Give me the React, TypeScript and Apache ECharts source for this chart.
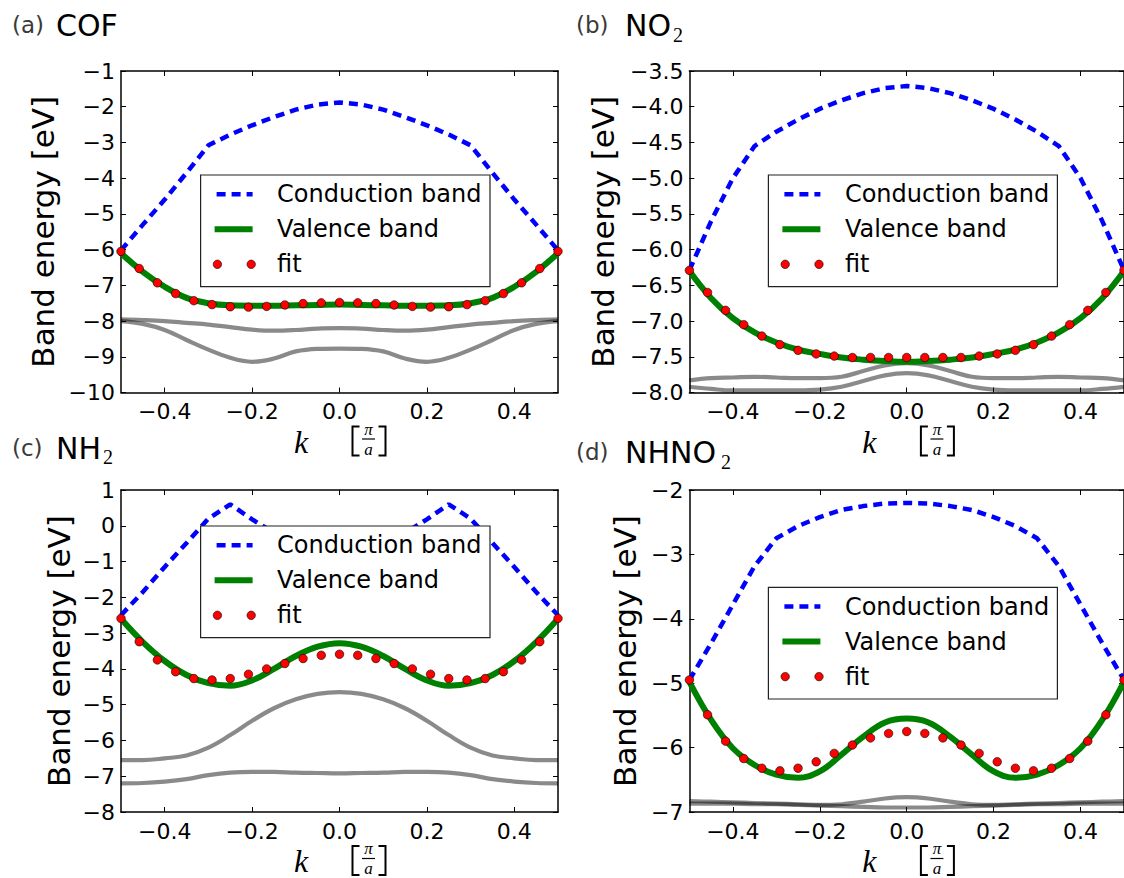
import React, { useEffect, useRef } from "react";
import * as echarts from "echarts";

// ---------------- data ----------------
const kLine = [-0.5, -0.45, -0.4, -0.35, -0.3, -0.25, -0.2, -0.15, -0.1, -0.05, 0, 0.05, 0.1, 0.15, 0.2, 0.25, 0.3, 0.35, 0.4, 0.45, 0.5];
const kFit = [-0.5, -0.4583, -0.4167, -0.375, -0.3333, -0.2917, -0.25, -0.2083, -0.1667, -0.125, -0.0833, -0.0417, 0, 0.0417, 0.0833, 0.125, 0.1667, 0.2083, 0.25, 0.2917, 0.3333, 0.375, 0.4167, 0.4583, 0.5];
const xTicks = [-0.4, -0.2, 0, 0.2, 0.4];

// (a) COF
const condA = [-6.02, -5.3, -4.6, -3.85, -3.08, -2.78, -2.52, -2.29, -2.08, -1.94, -1.88, -1.94, -2.08, -2.29, -2.52, -2.78, -3.08, -3.85, -4.6, -5.3, -6.02];
const valA = [-6.1, -6.62, -7.04, -7.35, -7.5, -7.56, -7.57, -7.57, -7.56, -7.55, -7.54, -7.55, -7.56, -7.57, -7.57, -7.56, -7.5, -7.35, -7.04, -6.62, -6.1];
const fitA = [-6.05, -6.53, -6.93, -7.23, -7.43, -7.54, -7.6, -7.61, -7.59, -7.55, -7.51, -7.49, -7.48, -7.49, -7.51, -7.55, -7.59, -7.61, -7.6, -7.54, -7.43, -7.23, -6.93, -6.53, -6.05];
const grayA1 = [-7.95, -7.97, -8.0, -8.05, -8.1, -8.17, -8.24, -8.27, -8.25, -8.21, -8.2, -8.21, -8.25, -8.27, -8.24, -8.17, -8.1, -8.05, -8.0, -7.97, -7.95];
const grayA2 = [-8.0, -8.08, -8.25, -8.53, -8.8, -9.03, -9.14, -9.05, -8.85, -8.78, -8.77, -8.78, -8.85, -9.05, -9.14, -9.03, -8.8, -8.53, -8.25, -8.08, -8.0];

// (b) NO2
const condB = [-6.29, -5.6, -5.0, -4.55, -4.35, -4.18, -4.03, -3.91, -3.81, -3.74, -3.71, -3.74, -3.81, -3.91, -4.03, -4.18, -4.35, -4.55, -5.0, -5.6, -6.29];
const valB = [-6.3, -6.68, -6.96, -7.16, -7.3, -7.4, -7.46, -7.51, -7.54, -7.56, -7.57, -7.56, -7.54, -7.51, -7.46, -7.4, -7.3, -7.16, -6.96, -6.68, -6.3];
const fitB = [-6.29, -6.6, -6.85, -7.05, -7.21, -7.33, -7.41, -7.46, -7.49, -7.51, -7.51, -7.51, -7.51, -7.51, -7.51, -7.51, -7.49, -7.46, -7.41, -7.33, -7.21, -7.05, -6.85, -6.6, -6.29];
const grayB1 = [-7.83, -7.8, -7.79, -7.78, -7.79, -7.8, -7.8, -7.78, -7.7, -7.62, -7.59, -7.62, -7.7, -7.78, -7.8, -7.8, -7.79, -7.78, -7.79, -7.8, -7.83];
const grayB2 = [-7.92, -7.95, -7.97, -7.97, -7.97, -7.97, -7.96, -7.92, -7.84, -7.76, -7.73, -7.76, -7.84, -7.92, -7.96, -7.97, -7.97, -7.97, -7.97, -7.95, -7.92];

// (c) NH2
const condC = [-2.5, -1.85, -1.15, -0.48, 0.2, 0.6, 0.18, -0.2, -0.6, -0.9, -1.0, -0.9, -0.6, -0.2, 0.18, 0.6, 0.2, -0.48, -1.15, -1.85, -2.5];
const valC = [-2.6, -3.25, -3.78, -4.17, -4.4, -4.47, -4.32, -4.0, -3.64, -3.38, -3.28, -3.38, -3.64, -4.0, -4.32, -4.47, -4.4, -4.17, -3.78, -3.25, -2.6];
const fitC = [-2.59, -3.24, -3.75, -4.08, -4.27, -4.31, -4.27, -4.15, -4.0, -3.85, -3.71, -3.62, -3.59, -3.62, -3.71, -3.85, -4.0, -4.15, -4.27, -4.31, -4.27, -4.08, -3.75, -3.24, -2.59];
const grayC1 = [-6.55, -6.55, -6.5, -6.42, -6.2, -5.85, -5.45, -5.1, -4.85, -4.7, -4.65, -4.7, -4.85, -5.1, -5.45, -5.85, -6.2, -6.42, -6.5, -6.55, -6.55];
const grayC2 = [-7.2, -7.19, -7.15, -7.08, -6.97, -6.9, -6.88, -6.88, -6.9, -6.91, -6.92, -6.91, -6.9, -6.88, -6.88, -6.9, -6.97, -7.08, -7.15, -7.19, -7.2];

// (d) NHNO2
const condD = [-4.95, -4.38, -3.78, -3.18, -2.75, -2.56, -2.42, -2.31, -2.25, -2.21, -2.2, -2.21, -2.25, -2.31, -2.42, -2.56, -2.75, -3.18, -3.78, -4.38, -4.95];
const valD = [-4.98, -5.57, -6.01, -6.27, -6.42, -6.47, -6.37, -6.11, -5.83, -5.61, -5.55, -5.61, -5.83, -6.11, -6.37, -6.47, -6.42, -6.27, -6.01, -5.57, -4.98];
const fitD = [-4.95, -5.49, -5.9, -6.17, -6.32, -6.36, -6.32, -6.22, -6.09, -5.96, -5.85, -5.78, -5.75, -5.78, -5.85, -5.96, -6.09, -6.22, -6.32, -6.36, -6.32, -6.17, -5.9, -5.49, -4.95];
const grayD1 = [-6.83, -6.84, -6.85, -6.86, -6.87, -6.88, -6.89, -6.88, -6.84, -6.79, -6.77, -6.79, -6.84, -6.88, -6.89, -6.88, -6.87, -6.86, -6.85, -6.84, -6.83];
const grayD2 = [-6.87, -6.87, -6.87, -6.88, -6.88, -6.89, -6.9, -6.91, -6.92, -6.93, -6.93, -6.93, -6.92, -6.91, -6.9, -6.89, -6.88, -6.88, -6.87, -6.87, -6.87];

const tags = ["(a)", "(b)", "(c)", "(d)"];
const names = ["COF", "NO", "NH", "NHNO"];
const subs = ["", "2", "2", "2"];
const yMins = [-10, -8, -8, -7];
const yMaxs = [-1, -3.5, 1, -2];
const ySteps = [1, 0.5, 1, 1];
const yDecimals = [0, 1, 0, 0];
const legendNames = ["Conduction band", "Valence band", "fit"];
const yName = "Band energy [eV]";

const condSets = [condA, condB, condC, condD];
const valSets = [valA, valB, valC, valD];
const fitSets = [fitA, fitB, fitC, fitD];
const gray1Sets = [grayA1, grayB1, grayC1, grayD1];
const gray2Sets = [grayA2, grayB2, grayC2, grayD2];

// ---------------- layout / style ----------------
const W = 1124;
const H = 878;
const SANS = "'DejaVu Sans', 'Open Sans', sans-serif";
const SERIF = "'Liberation Serif', 'DejaVu Serif', serif";
const grids = [
  { left: 121, top: 71, width: 437, height: 321.5 },
  { left: 689.4, top: 71, width: 436, height: 321.5 },
  { left: 121, top: 490, width: 437, height: 322 },
  { left: 689.4, top: 490, width: 436, height: 322 },
];
const titleLayout = [
  { tagX: 12, nameX: 56, y: 25, subX: 0, subY: 0 },
  { tagX: 576, nameX: 625, y: 25, subX: 673, subY: 34.5 },
  { tagX: 12, nameX: 56, y: 448, subX: 103, subY: 457 },
  { tagX: 576, nameX: 625, y: 452, subX: 721, subY: 461.5 },
];
const legendLayout = [
  { x: 200.6, y: 175, w: 289.4, h: 111.7 },
  { x: 768.4, y: 175, w: 289, h: 111.7 },
  { x: 200.6, y: 526, w: 289.4, h: 111.7 },
  { x: 768.4, y: 587.3, w: 289, h: 111.7 },
];
const yNameX = [43, 603, 58.5, 625];

const AXIS_W = 1.5;
const BLUE = "#0000ff";
const GREEN = "#008000";
const RED = "#ff0000";
const DASH = [9, 6];

function pairs(ks: number[], vs: number[]) {
  return ks.map((k, i) => [k, vs[i]]);
}
function fmtX(v: number) {
  const s = Math.abs(v).toFixed(1);
  return v < -1e-9 ? "\u2212" + s : s;
}

function buildOption() {
  const xAxis: any[] = [];
  const yAxis: any[] = [];
  const series: any[] = [];
  const graphic: any[] = [];

  grids.forEach((g, i) => {
    const lineCommon = { show: true, onZero: false, lineStyle: { color: "#000", width: AXIS_W } };
    const tickCommon = { show: true, inside: true, length: 5, lineStyle: { color: "#000", width: 1 } };
    xAxis.push({
      gridIndex: i, type: "value", min: -0.5, max: 0.5, position: "bottom",
      axisLine: lineCommon,
      axisTick: { ...tickCommon, customValues: xTicks },
      axisLabel: { show: true, customValues: xTicks, formatter: (v: number) => fmtX(v), fontSize: 22, fontFamily: SANS, color: "#000", margin: 8 },
      splitLine: { show: false },
    });
    xAxis.push({
      gridIndex: i, type: "value", min: -0.5, max: 0.5, position: "top",
      axisLine: lineCommon,
      axisTick: { ...tickCommon, customValues: xTicks },
      axisLabel: { show: false, customValues: xTicks },
      splitLine: { show: false },
    });
    const dec = yDecimals[i];
    const fmtY = (v: number) => {
      const s = Math.abs(v).toFixed(dec);
      return v < -1e-9 ? "\u2212" + s : s;
    };
    yAxis.push({
      gridIndex: i, type: "value", min: yMins[i], max: yMaxs[i], interval: ySteps[i], position: "left",
      axisLine: lineCommon,
      axisTick: tickCommon,
      axisLabel: { show: true, formatter: fmtY, fontSize: 22, fontFamily: SANS, color: "#000", margin: 6 },
      splitLine: { show: false },
    });
    yAxis.push({
      gridIndex: i, type: "value", min: yMins[i], max: yMaxs[i], interval: ySteps[i], position: "right",
      axisLine: lineCommon,
      axisTick: tickCommon,
      axisLabel: { show: false },
      splitLine: { show: false },
    });

    const xi = i * 2;
    const yi = i * 2;
    const grayStyle = { color: "#000", opacity: 0.46, width: 4.2 };
    series.push({
      type: "line", xAxisIndex: xi, yAxisIndex: yi, data: pairs(kLine, gray1Sets[i]),
      symbol: "none", smooth: 0.4, lineStyle: grayStyle, z: 1, silent: true,
    });
    series.push({
      type: "line", xAxisIndex: xi, yAxisIndex: yi, data: pairs(kLine, gray2Sets[i]),
      symbol: "none", smooth: 0.4, lineStyle: grayStyle, z: 1, silent: true,
    });
    series.push({
      name: legendNames[0], type: "line", xAxisIndex: xi, yAxisIndex: yi, data: pairs(kLine, condSets[i]),
      symbol: "none", smooth: false, lineStyle: { color: BLUE, width: 4.5, type: DASH, cap: "butt" }, z: 2, silent: true,
    });
    series.push({
      name: legendNames[1], type: "line", xAxisIndex: xi, yAxisIndex: yi, data: pairs(kLine, valSets[i]),
      symbol: "none", smooth: 0.4, lineStyle: { color: GREEN, width: 6 }, z: 3, silent: true,
    });
    series.push({
      name: legendNames[2], type: "scatter", xAxisIndex: xi, yAxisIndex: yi, data: pairs(kFit, fitSets[i]),
      symbol: "circle", symbolSize: 8.5, itemStyle: { color: RED, borderColor: "#000", borderWidth: 0.6, opacity: 1 }, z: 4, silent: true,
    });

    // titles
    const t = titleLayout[i];
    graphic.push({
      type: "text", x: t.tagX, y: t.y, z: 100,
      style: { text: tags[i], fontSize: 23, fontFamily: SANS, fill: "#3a3a3a", textAlign: "left", textVerticalAlign: "middle", align: "left", verticalAlign: "middle" },
    });
    graphic.push({
      type: "text", x: t.nameX, y: t.y, z: 100,
      style: { text: names[i], fontSize: 30, fontFamily: SANS, fill: "#000", textAlign: "left", textVerticalAlign: "middle", align: "left", verticalAlign: "middle" },
    });
    if (subs[i]) {
      graphic.push({
        type: "text", x: t.subX, y: t.subY, z: 100,
        style: { text: subs[i], fontSize: 20, fontFamily: SERIF, fill: "#000", textAlign: "left", textVerticalAlign: "middle", align: "left", verticalAlign: "middle" },
      });
    }

    // y axis name
    graphic.push({
      type: "text", x: yNameX[i], y: g.top + g.height / 2, rotation: Math.PI / 2, z: 100,
      style: { text: yName, fontSize: 31, fontFamily: SANS, fill: "#000", textAlign: "center", textVerticalAlign: "middle", align: "center", verticalAlign: "middle" },
    });

    // x axis name: k [pi/a]
    const L = g.left;
    const B = g.top + g.height;
    graphic.push({
      type: "text", x: L + 180, y: B + 49, z: 100,
      style: { text: "k", fontSize: 32, lineHeight: 24, fontStyle: "italic", fontFamily: SERIF, fill: "#000", textAlign: "center", textVerticalAlign: "middle", align: "center", verticalAlign: "middle" },
    });
    graphic.push({
      type: "polyline", z: 100,
      shape: { points: [[L + 238.5, B + 34], [L + 231.5, B + 34], [L + 231.5, B + 63], [L + 238.5, B + 63]] },
      style: { stroke: "#000", lineWidth: 2, fill: null },
    });
    graphic.push({
      type: "polyline", z: 100,
      shape: { points: [[L + 257.5, B + 34], [L + 264.5, B + 34], [L + 264.5, B + 63], [L + 257.5, B + 63]] },
      style: { stroke: "#000", lineWidth: 2, fill: null },
    });
    graphic.push({
      type: "text", x: L + 247.5, y: B + 36.5, z: 100,
      style: { text: "\u03c0", fontSize: 17, lineHeight: 17, fontStyle: "italic", fontFamily: SERIF, fill: "#000", textAlign: "center", textVerticalAlign: "middle", align: "center", verticalAlign: "middle" },
    });
    graphic.push({
      type: "text", x: L + 247.5, y: B + 56.5, z: 100,
      style: { text: "a", fontSize: 17, lineHeight: 17, fontStyle: "italic", fontFamily: SERIF, fill: "#000", textAlign: "center", textVerticalAlign: "middle", align: "center", verticalAlign: "middle" },
    });
    graphic.push({
      type: "line", z: 100,
      shape: { x1: L + 241, y1: B + 46.5, x2: L + 254, y2: B + 46.5 },
      style: { stroke: "#000", lineWidth: 1.2 },
    });

    // legend
    const lg = legendLayout[i];
    const rowY = [19.3, 54.3, 89.3];
    const textStyle = (txt: string) => ({ text: txt, fontSize: 24, fontFamily: SANS, fill: "#000", textAlign: "left", textVerticalAlign: "middle", align: "left", verticalAlign: "middle" });
    graphic.push({
      type: "group", x: lg.x, y: lg.y, z: 100,
      children: [
        { type: "rect", z: 100, shape: { x: 0, y: 0, width: lg.w, height: lg.h }, style: { fill: "#fff", stroke: "#222", lineWidth: 1.2 } },
        { type: "line", z: 101, shape: { x1: 16, y1: rowY[0], x2: 52, y2: rowY[0] }, style: { stroke: BLUE, lineWidth: 4.5, lineDash: DASH } },
        { type: "text", z: 101, x: 76.5, y: rowY[0], style: textStyle(legendNames[0]) },
        { type: "line", z: 101, shape: { x1: 14, y1: rowY[1], x2: 52, y2: rowY[1] }, style: { stroke: GREEN, lineWidth: 6 } },
        { type: "text", z: 101, x: 76.5, y: rowY[1], style: textStyle(legendNames[1]) },
        { type: "circle", z: 101, shape: { cx: 16.8, cy: rowY[2], r: 4.2 }, style: { fill: RED, stroke: "#000", lineWidth: 0.6 } },
        { type: "circle", z: 101, shape: { cx: 50.6, cy: rowY[2], r: 4.2 }, style: { fill: RED, stroke: "#000", lineWidth: 0.6 } },
        { type: "text", z: 101, x: 76.5, y: rowY[2], style: textStyle(legendNames[2]) },
      ],
    });
  });

  return {
    animation: false,
    backgroundColor: "#ffffff",
    grid: grids.map((g) => ({ ...g, containLabel: false, show: false })),
    xAxis,
    yAxis,
    series,
    graphic: { elements: graphic },
  };
}

export default function App() {
  const ref = useRef<HTMLDivElement>(null);
  useEffect(() => {
    document.body.style.margin = "0";
    if (!ref.current) return;
    const chart = echarts.init(ref.current, undefined, { renderer: "svg", width: W, height: H });
    chart.setOption(buildOption() as any);
    return () => {
      chart.dispose();
    };
  }, []);
  return <div ref={ref} style={{ width: W, height: H, background: "#fff" }} />;
}
